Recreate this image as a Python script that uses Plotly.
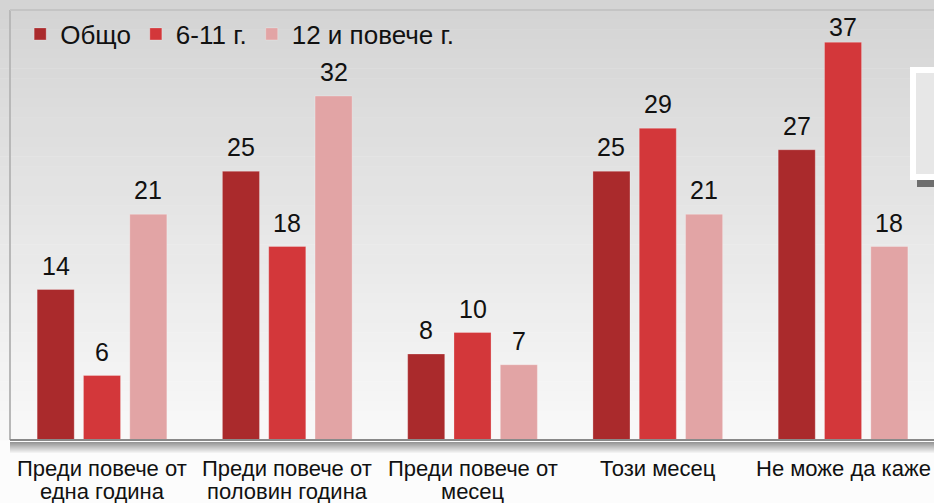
import plotly.graph_objects as go

categories = ['Преди повече от<br>една година', 'Преди повече от<br>половин година',
              'Преди повече от<br>месец', 'Този месец', 'Не може да каже']
series_names = ['Общо', '6-11 г.', '12 и повече г.']
total = [14, 25, 8, 25, 27]
age_6_11 = [6, 18, 10, 29, 37]
age_12_plus = [21, 32, 7, 21, 18]

COLORS = ['#AA2A2C', '#D3373A', '#E2A4A5']
W, H = 934, 503
L, T, B = 10, 10, 63
PW, PH = W - L, H - T - B
Y_MAX = 40
PX_PER_UNIT = PH / Y_MAX


def px_x(px):
    return (px - L) / PW


def px_y(py):
    return (H - B - py) / PH


def gradient_shapes():
    shapes = []
    n = 45
    top, bottom = 0, H - B
    for i in range(n):
        y0 = top + (bottom - top) * i / n
        y1 = top + (bottom - top) * (i + 1) / n
        t = i / (n - 1)
        c = int(212 + (249 - 212) * t)
        shapes.append(dict(type='rect', xref='paper', yref='paper', layer='below',
                           x0=px_x(0), x1=px_x(W), y0=px_y(y1) - 0.001, y1=px_y(y0),
                           fillcolor=f'rgb({c},{c},{c})', line_width=0))
    # shadow under the floor line
    for k in range(12):
        c = int(150 + (252 - 150) * k / 11)
        shapes.append(dict(type='rect', xref='paper', yref='paper', layer='below',
                           x0=px_x(L), x1=px_x(W), y0=px_y(H - B + 2 + k + 1), y1=px_y(H - B + 2 + k),
                           fillcolor=f'rgb({c},{c},{c})', line_width=0))
    return shapes


fig = go.Figure()
annotations = []
for i, (name, vals, col) in enumerate(zip(series_names, [total, age_6_11, age_12_plus], COLORS)):
    fig.add_trace(go.Bar(x=categories, y=vals, name=name, marker_color=col,
                         marker_line=dict(width=1, color='rgba(255,255,255,0.25)')))
    # value labels, kept inside the top of the panel
    for j, v in enumerate(vals):
        y_lab = min(v + 24 / PX_PER_UNIT, Y_MAX - 17 / PX_PER_UNIT)
        annotations.append(dict(x=j + (i - 1) * 0.25, y=y_lab, text=str(v), showarrow=False,
                                xanchor='center', yanchor='middle',
                                font=dict(size=25, color='#111111')))

# category labels, one annotation per line so the line spacing stays tight
for j, cat in enumerate(categories):
    for k, part in enumerate(cat.split('<br>')):
        annotations.append(dict(x=j, y=px_y(468 + 23 * k), yref='paper', text=part,
                                showarrow=False, xanchor='center', yanchor='middle',
                                font=dict(size=22, color='#111111')))

shapes = gradient_shapes()
# panel frame
shapes.append(dict(type='line', xref='paper', yref='paper', x0=0, x1=0, y0=0, y1=1,
                   line=dict(color='#b8b8b8', width=2)))
shapes.append(dict(type='line', xref='paper', yref='paper', x0=0, x1=1.01, y0=1, y1=1,
                   line=dict(color='#c4c4c4', width=2)))
shapes.append(dict(type='line', xref='paper', yref='paper', x0=0, x1=1.01, y0=0, y1=0,
                   line=dict(color='#8a8a8a', width=2)))
# the odd box cut off at the right edge
shapes.append(dict(type='rect', xref='paper', yref='paper', x0=px_x(910), x1=px_x(940),
                   y0=px_y(180), y1=px_y(67), fillcolor='white', line_width=0))
shapes.append(dict(type='rect', xref='paper', yref='paper', x0=px_x(916), x1=px_x(940),
                   y0=px_y(174), y1=px_y(73), fillcolor='#e7e7e7', line_width=0))
shapes.append(dict(type='rect', xref='paper', yref='paper', x0=px_x(917), x1=px_x(940),
                   y0=px_y(187), y1=px_y(180), fillcolor='#6e6e6e', line_width=0))

fig.update_layout(
    width=W, height=H,
    margin=dict(l=L, r=0, t=T, b=B, autoexpand=False),
    paper_bgcolor='#fcfcfc', plot_bgcolor='rgba(0,0,0,0)',
    font=dict(family='Liberation Sans, Arial, sans-serif', color='#111111'),
    barmode='group', bargap=0.25, bargroupgap=0.2,
    shapes=shapes, annotations=annotations,
    legend=dict(orientation='h', x=0.011, y=px_y(34), xanchor='left', yanchor='middle',
                font=dict(size=26), bgcolor='rgba(0,0,0,0)', itemwidth=30,
                traceorder='normal'),
    xaxis=dict(range=[-0.4966, 4.491], showgrid=False, zeroline=False, showline=False,
               ticks='', showticklabels=False, automargin=False),
    yaxis=dict(range=[0, Y_MAX], visible=False, automargin=False),
)

fig.write_html('out.html', config={'displayModeBar': False},
               post_script="document.body.style.margin='0';")
